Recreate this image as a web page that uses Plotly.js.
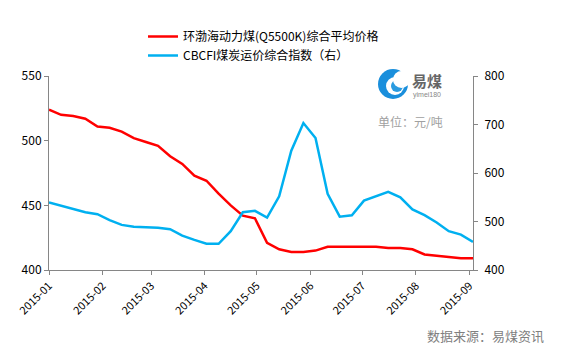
<!DOCTYPE html>
<html>
<head>
<meta charset="utf-8">
<script src="https://cdn.plot.ly/plotly-3.0.1.min.js"></script>
<style>html,body{margin:0;padding:0;background:#fff;}#chart{width:575px;height:359px;}</style>
</head>
<body>
<div id="chart"></div>
<script>
// Weekly dates (2015-01-01 + 7 days each)
const startDate = '2015-01-01';
const nPoints = 36;
const dates = [];
(function(){
  const d0 = new Date(Date.UTC(2015,0,1));
  for (let k=0;k<nPoints;k++){
    const d = new Date(d0.getTime() + k*7*86400000);
    dates.push(d.toISOString().slice(0,10));
  }
})();

const seriesNames = ['环渤海动力煤(Q5500K)综合平均价格', 'CBCFI煤炭运价综合指数（右）'];

// 环渤海动力煤(Q5500K)综合平均价格 (left axis, 元/吨)
const bsPI = [524, 520, 519, 517, 511, 510, 507, 502, 499, 496, 488, 482, 473, 469, 459, 450, 442, 440,
              421, 416, 414, 414, 415, 418, 418, 418, 418, 418, 417, 417, 416, 412, 411, 410, 409, 409];

// CBCFI煤炭运价综合指数 (right axis)
const cbcfi = [539, 532, 526, 519, 515, 503, 493, 489, 488, 487, 484, 471, 462, 454, 454, 480, 519, 522,
               508, 552, 646, 703, 672, 557, 510, 513, 543, 552, 561, 550, 525, 513, 498, 480, 473, 458];

const leftTicks = [400, 450, 500, 550];
const rightTicks = [400, 500, 600, 700, 800];

const fontFam = 'Noto Sans CJK SC, Liberation Sans, sans-serif';

// plot area geometry (pixels) for decoration helpers
const L = 49, R = 102, T = 76, B = 89, W = 575, H = 359;
const pw = W - L - R, ph = H - T - B;
const px = x => (x - L) / pw;
const py = y => (H - B - y) / ph;

const traces = [
  {x: dates, y: bsPI, name: seriesNames[0], type: 'scatter', mode: 'lines',
   line: {color: '#ff0000', width: 2.5}, yaxis: 'y'},
  {x: dates, y: cbcfi, name: seriesNames[1], type: 'scatter', mode: 'lines',
   line: {color: '#00b0f0', width: 2.5}, yaxis: 'y2'}
];

const axisCommon = {
  showgrid: false, zeroline: false, showline: true, linecolor: '#868686', linewidth: 1,
  ticks: 'outside', ticklen: 4, tickcolor: '#868686', tickfont: {family: fontFam, size: 12, color: '#000'}
};

const layout = {
  width: W, height: H,
  margin: {l: L, r: R, t: T, b: B, pad: 0},
  paper_bgcolor: '#fff', plot_bgcolor: '#fff',
  font: {family: fontFam, size: 12, color: '#000'},
  showlegend: true,
  legend: {x: px(143), y: py(22), xanchor: 'left', yanchor: 'top', orientation: 'v',
           font: {family: fontFam, size: 12, color: '#000'}, bgcolor: 'rgba(0,0,0,0)', tracegroupgap: 0},
  xaxis: Object.assign({}, axisCommon, {
    type: 'date', range: [dates[0], dates[dates.length-1]],
    tick0: '2015-01-01', dtick: 'M1', tickformat: '%Y-%m', tickangle: -45,
    tickfont: {family: fontFam, size: 11, color: '#000'}
  }),
  yaxis: Object.assign({}, axisCommon, {
    range: [400, 550], tickvals: leftTicks, ticktext: leftTicks.map(String)
  }),
  yaxis2: Object.assign({}, axisCommon, {
    range: [400, 800], tickvals: rightTicks, ticktext: rightTicks.map(String),
    overlaying: 'y', side: 'right', ticklabelstandoff: 4
  }),
  shapes: [
    // logo: blue disc with white swirl
    {type: 'circle', xref: 'paper', yref: 'paper', x0: px(378), x1: px(408), y0: py(99), y1: py(69),
     fillcolor: '#1a8fdc', line: {width: 0}},
    {type: 'circle', xref: 'paper', yref: 'paper', x0: px(386), x1: px(404), y0: py(95), y1: py(77),
     fillcolor: '#ffffff', line: {width: 0}},
    {type: 'circle', xref: 'paper', yref: 'paper', x0: px(391), x1: px(403), y0: py(92), y1: py(80),
     fillcolor: '#2a9be0', line: {width: 0}},
    {type: 'circle', xref: 'paper', yref: 'paper', x0: px(393), x1: px(410), y0: py(88), y1: py(71),
     fillcolor: '#ffffff', line: {width: 0}}
  ],
  annotations: [
    {xref: 'paper', yref: 'paper', x: px(410), y: py(80), xanchor: 'left', yanchor: 'middle', showarrow: false,
     text: '<b>易煤</b>', font: {family: fontFam, size: 15, color: '#666'}},
    {xref: 'paper', yref: 'paper', x: px(411), y: py(95), xanchor: 'left', yanchor: 'middle', showarrow: false,
     text: 'yimei180', font: {family: 'Liberation Sans, sans-serif', size: 7, color: '#888'}},
    {xref: 'paper', yref: 'paper', x: px(376), y: py(121), xanchor: 'left', yanchor: 'middle', showarrow: false,
     text: '单位：元/吨', font: {family: fontFam, size: 12, color: '#a0a0a0'}},
    {xref: 'paper', yref: 'paper', x: px(425), y: py(335), xanchor: 'left', yanchor: 'middle', showarrow: false,
     text: '数据来源：易煤资讯', font: {family: fontFam, size: 13, color: '#808080'}}
  ]
};

Plotly.newPlot('chart', traces, layout, {displayModeBar: false, staticPlot: true});
</script>
</body>
</html>
